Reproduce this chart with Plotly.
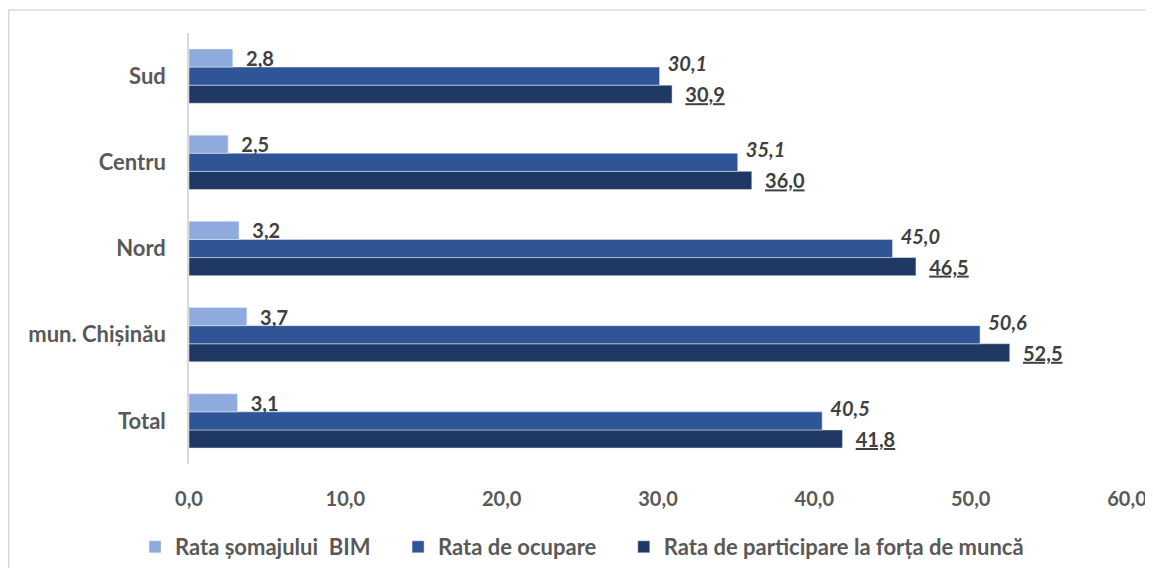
import plotly.graph_objects as go

categories = ["Total", "mun. Chișinău", "Nord", "Centru", "Sud"]
somaj = [3.1, 3.7, 3.2, 2.5, 2.8]
ocupare = [40.5, 50.6, 45.0, 35.1, 30.1]
participare = [41.8, 52.5, 46.5, 36.0, 30.9]
series_names = ["Rata șomajului BIM", "Rata de ocupare", "Rata de participare la forța de muncă"]
tick_values = [0, 10, 20, 30, 40, 50, 60]

FONT = "Lato, 'Open Sans', sans-serif"
LABEL_COLOR = "#404040"

# plot area geometry in figure pixels
L, T, PW, PH = 181, 25, 938, 431
W, H = 1145, 560
PAD = "&nbsp;" * 4

fig = go.Figure()
fig.add_trace(go.Bar(
    y=categories, x=participare, orientation="h",
    name="<b>" + series_names[2] + "</b>",
    marker_color="#203864",
    texttemplate="&nbsp;&nbsp;<b><u>%{x:.1f}</u></b>",
    textposition="outside", constraintext="none", cliponaxis=False,
    textfont=dict(size=20, color=LABEL_COLOR, family=FONT),
))
fig.add_trace(go.Bar(
    y=categories, x=ocupare, orientation="h",
    name="<b>" + series_names[1] + "</b>" + PAD,
    marker_color="#2F5597",
    texttemplate="&nbsp;<b><i>%{x:.1f}</i></b><br>&nbsp;",
    textposition="outside", constraintext="none", cliponaxis=False,
    textfont=dict(size=20, color=LABEL_COLOR, family=FONT),
))
fig.add_trace(go.Bar(
    y=categories, x=somaj, orientation="h",
    name="<b>" + series_names[0].replace(" BIM", "&nbsp; BIM") + "</b>" + PAD,
    marker_color="#8FAADC",
    texttemplate="&nbsp;&nbsp;<b>%{x:.1f}</b>",
    textposition="outside", constraintext="none", cliponaxis=False,
    textfont=dict(size=20, color=LABEL_COLOR, family=FONT),
))

fig.update_layout(
    width=W, height=H,
    margin=dict(l=L, r=W - L - PW, t=T, b=H - T - PH, autoexpand=False),
    paper_bgcolor="white", plot_bgcolor="white",
    barmode="group", bargap=0.37, bargroupgap=0,
    separators=", ",
    font=dict(family=FONT, color="#595959"),
    showlegend=True,
    legend=dict(
        orientation="h", traceorder="reversed",
        xref="container", yref="container",
        x=574 / W, xanchor="center", y=1 - 539 / H, yanchor="middle",
        font=dict(size=22, color="#595959", family=FONT),
        itemwidth=30,
    ),
    xaxis=dict(
        range=[0, 60], tickvals=tick_values,
        ticktext=[f"<b>{v:.1f}</b>".replace(".", ",") for v in tick_values],
        showgrid=False, zeroline=False, showline=False, automargin=False,
        tickfont=dict(size=20, color="#595959", family=FONT),
        ticklabelstandoff=21,
    ),
    yaxis=dict(
        tickvals=categories, ticktext=[f"<b>{c}</b>" for c in categories],
        showgrid=False, zeroline=False, showline=True, linecolor="#D9D9D9", linewidth=1.5,
        automargin=False,
        tickfont=dict(size=22, color="#595959", family=FONT),
        ticklabelstandoff=17,
    ),
    shapes=[dict(
        type="rect", xref="paper", yref="paper",
        x0=(0.75 - L) / PW, x1=(W + 30 - L) / PW,
        y0=(T + PH - (H + 30)) / PH, y1=(T + PH - 2) / PH,
        line=dict(color="#D9D9D9", width=1.5), fillcolor="rgba(0,0,0,0)", layer="below",
    )],
)

fig.write_html("out.html")
